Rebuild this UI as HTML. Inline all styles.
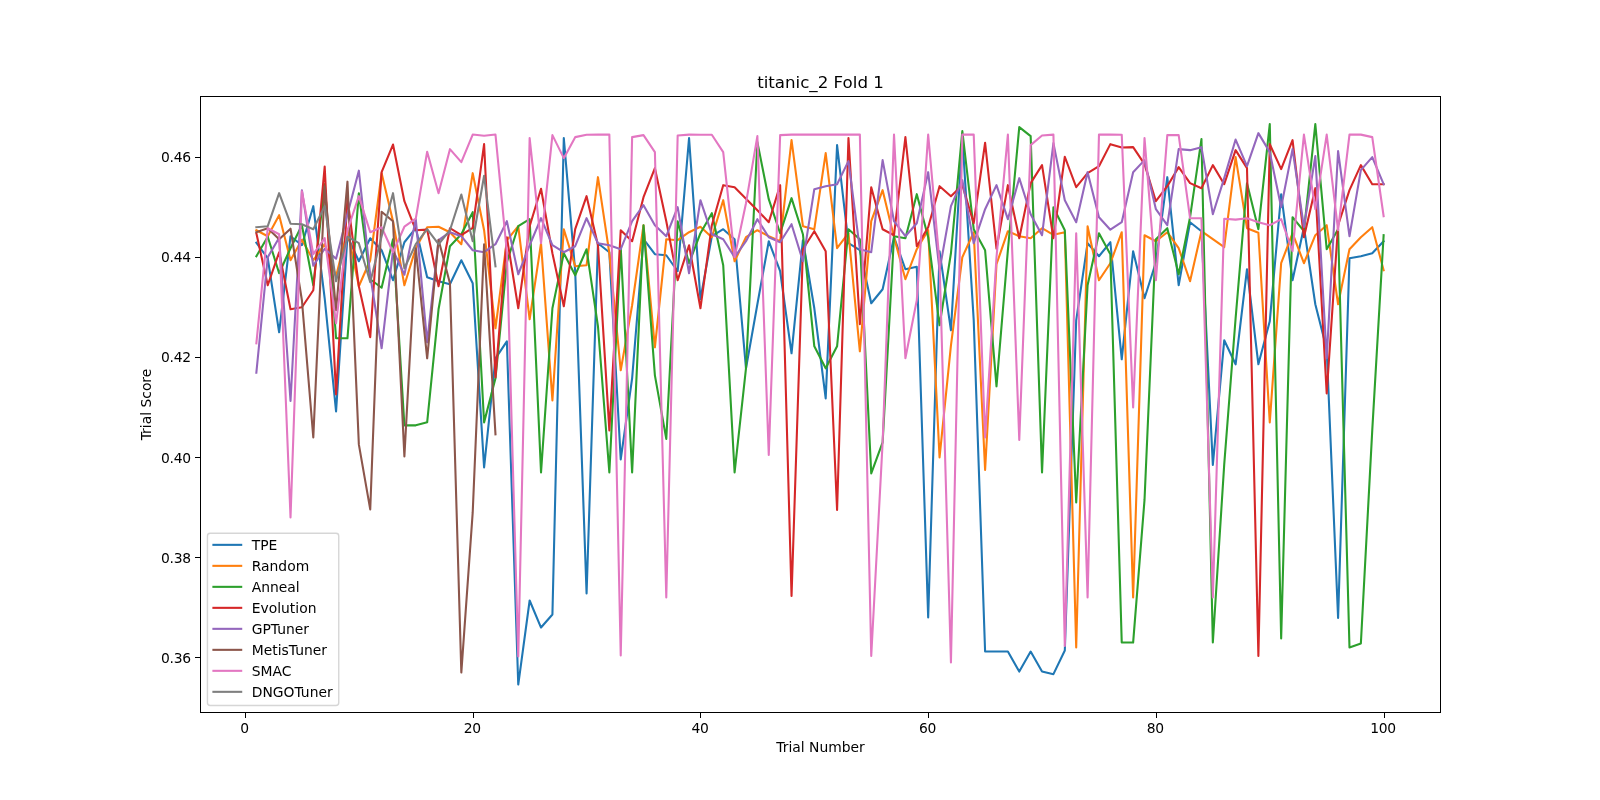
<!DOCTYPE html>
<html lang="en"><head><meta charset="utf-8"><title>titanic_2 Fold 1</title>
<style>html,body{margin:0;padding:0;background:#fff;width:1600px;height:800px;overflow:hidden}svg{display:block;will-change:transform}.sp,.tk{fill:none;stroke:#000;stroke-width:0.72;shape-rendering:crispEdges}.sp{stroke-linecap:square}</style>
</head><body>
<svg  width="1600" height="800" viewBox="0 0 1152 576"  version="1.1">
 
 <defs>
  <style type="text/css">*{stroke-linejoin: round; stroke-linecap: butt}</style>
 </defs>
 <g id="figure_1" transform="translate(0.36 0.36)">
  <g id="patch_1">
   <path d="M 0 576 
L 1152 576 
L 1152 0 
L 0 0 
z
" style="fill: #ffffff"/>
  </g>
  <g id="axes_1">
   <g id="patch_2">
    <path d="M 144 512.64 
L 1036.8 512.64 
L 1036.8 69.12 
L 144 69.12 
z
" style="fill: #ffffff"/>
   </g>
   <g id="matplotlib.axis_1">
    <g id="xtick_1">
     <g id="line2d_1">
      
      <g>
       <path d="M 176.383 512.640 L 176.383 516.560" class="tk"/>
      </g>
     </g>
     <g id="text_1">
      <text style="font-size: 10px; font-family: 'DejaVu Sans', 'Liberation Sans', sans-serif; letter-spacing: -0.22px; text-anchor: middle" x="175.633" y="527.238438" transform="rotate(-0 176.383471 527.238438)">0</text>
     </g>
    </g>
    <g id="xtick_2">
     <g id="line2d_2">
      <g>
       <path d="M 340.350 512.640 L 340.350 516.560" class="tk"/>
      </g>
     </g>
     <g id="text_2">
      <text style="font-size: 10px; font-family: 'DejaVu Sans', 'Liberation Sans', sans-serif; letter-spacing: -0.22px; text-anchor: middle" x="339.600" y="527.238438" transform="rotate(-0 340.350413 527.238438)">20</text>
     </g>
    </g>
    <g id="xtick_3">
     <g id="line2d_3">
      <g>
       <path d="M 504.317 512.640 L 504.317 516.560" class="tk"/>
      </g>
     </g>
     <g id="text_3">
      <text style="font-size: 10px; font-family: 'DejaVu Sans', 'Liberation Sans', sans-serif; letter-spacing: -0.22px; text-anchor: middle" x="503.567" y="527.238438" transform="rotate(-0 504.317355 527.238438)">40</text>
     </g>
    </g>
    <g id="xtick_4">
     <g id="line2d_4">
      <g>
       <path d="M 668.284 512.640 L 668.284 516.560" class="tk"/>
      </g>
     </g>
     <g id="text_4">
      <text style="font-size: 10px; font-family: 'DejaVu Sans', 'Liberation Sans', sans-serif; letter-spacing: -0.22px; text-anchor: middle" x="667.534" y="527.238438" transform="rotate(-0 668.284298 527.238438)">60</text>
     </g>
    </g>
    <g id="xtick_5">
     <g id="line2d_5">
      <g>
       <path d="M 832.251 512.640 L 832.251 516.560" class="tk"/>
      </g>
     </g>
     <g id="text_5">
      <text style="font-size: 10px; font-family: 'DejaVu Sans', 'Liberation Sans', sans-serif; letter-spacing: -0.22px; text-anchor: middle" x="831.501" y="527.238438" transform="rotate(-0 832.25124 527.238438)">80</text>
     </g>
    </g>
    <g id="xtick_6">
     <g id="line2d_6">
      <g>
       <path d="M 996.218 512.640 L 996.218 516.560" class="tk"/>
      </g>
     </g>
     <g id="text_6">
      <text style="font-size: 10px; font-family: 'DejaVu Sans', 'Liberation Sans', sans-serif; letter-spacing: -0.22px; text-anchor: middle" x="995.468" y="527.238438" transform="rotate(-0 996.218182 527.238438)">100</text>
     </g>
    </g>
    <g id="text_7">
     <text style="font-size: 10px; font-family: 'DejaVu Sans', 'Liberation Sans', sans-serif; text-anchor: middle" x="590.4" y="540.916563" transform="rotate(-0 590.4 540.916563)">Trial Number</text>
    </g>
   </g>
   <g id="matplotlib.axis_2">
    <g id="ytick_1">
     <g id="line2d_7">
      
      <g>
       <path d="M 144.000 473.008 L 140.080 473.008" class="tk"/>
      </g>
     </g>
     <g id="text_8">
      <text style="font-size: 10px; font-family: 'DejaVu Sans', 'Liberation Sans', sans-serif; letter-spacing: -0.22px; text-anchor: end" x="137" y="476.80705" transform="rotate(-0 137 476.80705)">0.36</text>
     </g>
    </g>
    <g id="ytick_2">
     <g id="line2d_8">
      <g>
       <path d="M 144.000 400.949 L 140.080 400.949" class="tk"/>
      </g>
     </g>
     <g id="text_9">
      <text style="font-size: 10px; font-family: 'DejaVu Sans', 'Liberation Sans', sans-serif; letter-spacing: -0.22px; text-anchor: end" x="137" y="404.748561" transform="rotate(-0 137 404.748561)">0.38</text>
     </g>
    </g>
    <g id="ytick_3">
     <g id="line2d_9">
      <g>
       <path d="M 144.000 328.891 L 140.080 328.891" class="tk"/>
      </g>
     </g>
     <g id="text_10">
      <text style="font-size: 10px; font-family: 'DejaVu Sans', 'Liberation Sans', sans-serif; letter-spacing: -0.22px; text-anchor: end" x="137" y="332.690072" transform="rotate(-0 137 332.690072)">0.40</text>
     </g>
    </g>
    <g id="ytick_4">
     <g id="line2d_10">
      <g>
       <path d="M 144.000 256.832 L 140.080 256.832" class="tk"/>
      </g>
     </g>
     <g id="text_11">
      <text style="font-size: 10px; font-family: 'DejaVu Sans', 'Liberation Sans', sans-serif; letter-spacing: -0.22px; text-anchor: end" x="137" y="260.631583" transform="rotate(-0 137 260.631583)">0.42</text>
     </g>
    </g>
    <g id="ytick_5">
     <g id="line2d_11">
      <g>
       <path d="M 144.000 184.774 L 140.080 184.774" class="tk"/>
      </g>
     </g>
     <g id="text_12">
      <text style="font-size: 10px; font-family: 'DejaVu Sans', 'Liberation Sans', sans-serif; letter-spacing: -0.22px; text-anchor: end" x="137" y="188.573094" transform="rotate(-0 137 188.573094)">0.44</text>
     </g>
    </g>
    <g id="ytick_6">
     <g id="line2d_12">
      <g>
       <path d="M 144.000 112.715 L 140.080 112.715" class="tk"/>
      </g>
     </g>
     <g id="text_13">
      <text style="font-size: 10px; font-family: 'DejaVu Sans', 'Liberation Sans', sans-serif; letter-spacing: -0.22px; text-anchor: end" x="137" y="116.514605" transform="rotate(-0 137 116.514605)">0.46</text>
     </g>
    </g>
    <g id="text_14">
     <text style="font-size: 10px; font-family: 'DejaVu Sans', 'Liberation Sans', sans-serif; text-anchor: middle" x="108.654687" y="290.88" transform="rotate(-90 108.654687 290.88)">Trial Score</text>
    </g>
   </g>
   <g id="line2d_13" transform="translate(-0.36 -0.36)">
    <path d="M 184.581818 174.829803 
L 192.780165 185.926811 
L 200.978512 239.250093 
L 209.17686 170.073943 
L 217.375207 176.559207 
L 225.573554 148.456396 
L 233.771901 214.750206 
L 241.970248 296.176299 
L 250.168595 170.073943 
L 258.366942 188.088565 
L 266.565289 171.515113 
L 274.763636 180.162132 
L 282.961983 201.779678 
L 291.160331 174.397452 
L 299.358678 164.309264 
L 307.557025 199.617924 
L 315.755372 202.500263 
L 323.953719 204.662018 
L 332.152066 187.367981 
L 340.350413 203.941433 
L 348.54876 336.529053 
L 356.747107 257.9853 
L 364.945455 245.735357 
L 373.143802 492.895974 
L 381.342149 432.366843 
L 389.540496 451.822635 
L 397.738843 442.455032 
L 405.93719 99.456624 
L 414.135537 195.294414 
L 422.333884 427.322749 
L 430.532231 175.118037 
L 438.730579 181.603301 
L 446.928926 330.764374 
L 455.127273 272.396998 
L 463.32562 172.235698 
L 471.523967 183.044471 
L 479.722314 183.765056 
L 487.920661 195.294414 
L 496.119008 99.456624 
L 504.317355 215.470791 
L 512.515702 170.073943 
L 520.71405 165.029849 
L 528.912397 172.235698 
L 537.110744 265.191149 
L 545.309091 219.073716 
L 553.507438 173.676868 
L 561.705785 195.294414 
L 569.904132 254.382375 
L 578.102479 172.956283 
L 586.300826 221.956055 
L 594.499174 286.808695 
L 602.697521 104.500718 
L 610.895868 175.118037 
L 619.094215 180.162132 
L 627.292562 218.353131 
L 635.490909 208.264942 
L 643.689256 170.794528 
L 651.887603 193.853245 
L 660.08595 192.051782 
L 668.284298 444.616786 
L 676.482645 180.882716 
L 684.680992 237.808923 
L 692.879339 98.015454 
L 701.077686 230.603074 
L 709.276033 469.116673 
L 717.47438 469.116673 
L 725.672727 469.116673 
L 733.871074 483.52837 
L 742.069421 469.116673 
L 750.267769 483.52837 
L 758.466116 485.401891 
L 766.664463 468.396088 
L 774.86281 230.603074 
L 783.061157 175.118037 
L 791.259504 184.485641 
L 799.457851 174.397452 
L 807.656198 258.705885 
L 815.854545 180.882716 
L 824.052893 214.750206 
L 832.25124 188.80915 
L 840.449587 127.559435 
L 848.647934 205.382603 
L 856.846281 159.985755 
L 865.044628 166.471019 
L 873.242975 334.727591 
L 881.441322 245.014772 
L 889.639669 262.308809 
L 897.838017 193.853245 
L 906.036364 262.308809 
L 914.234711 231.323659 
L 922.433058 139.809378 
L 930.631405 201.779678 
L 938.829752 163.588679 
L 947.028099 219.073716 
L 955.226446 251.500036 
L 963.424793 444.977079 
L 971.62314 185.926811 
L 979.821488 184.485641 
L 988.019835 182.323886 
L 996.218182 173.676868 
" clip-path="url(#pc10ccb97a0)" style="fill: none; stroke: #1f77b4; stroke-width: 1.5; stroke-linecap: square"/>
   </g>
   <g id="line2d_14" transform="translate(-0.36 -0.36)">
    <path d="M 184.581818 165.750434 
L 192.780165 170.073943 
L 200.978512 154.94166 
L 209.17686 187.367981 
L 217.375207 172.59599 
L 225.573554 187.367981 
L 233.771901 175.838622 
L 241.970248 198.897339 
L 250.168595 165.750434 
L 258.366942 206.103188 
L 266.565289 187.367981 
L 274.763636 124.677095 
L 282.961983 159.26517 
L 291.160331 205.382603 
L 299.358678 178.720962 
L 307.557025 163.588679 
L 315.755372 163.300445 
L 323.953719 167.191604 
L 332.152066 175.838622 
L 340.350413 124.677095 
L 348.54876 165.750434 
L 356.747107 236.367753 
L 364.945455 172.956283 
L 373.143802 162.868094 
L 381.342149 229.882489 
L 389.540496 175.118037 
L 397.738843 288.249865 
L 405.93719 165.029849 
L 414.135537 191.69149 
L 422.333884 190.970905 
L 430.532231 127.559435 
L 438.730579 182.323886 
L 446.928926 266.632318 
L 455.127273 219.794301 
L 463.32562 162.147509 
L 471.523967 250.058866 
L 479.722314 172.235698 
L 487.920661 172.956283 
L 496.119008 167.191604 
L 504.317355 163.300445 
L 512.515702 170.794528 
L 520.71405 144.132887 
L 528.912397 188.088565 
L 537.110744 170.794528 
L 545.309091 165.750434 
L 553.507438 170.073943 
L 561.705785 173.676868 
L 569.904132 100.897794 
L 578.102479 162.868094 
L 586.300826 165.029849 
L 594.499174 110.265397 
L 602.697521 178.720962 
L 610.895868 167.912188 
L 619.094215 252.941206 
L 627.292562 159.26517 
L 635.490909 136.927038 
L 643.689256 170.794528 
L 651.887603 201.059093 
L 660.08595 179.441547 
L 668.284298 165.750434 
L 676.482645 329.323204 
L 684.680992 248.617696 
L 692.879339 185.206226 
L 701.077686 167.191604 
L 709.276033 338.330515 
L 717.47438 190.25032 
L 725.672727 166.471019 
L 733.871074 170.073943 
L 742.069421 171.515113 
L 750.267769 164.309264 
L 758.466116 169.065124 
L 766.664463 167.191604 
L 774.86281 466.234333 
L 783.061157 162.868094 
L 791.259504 201.779678 
L 799.457851 189.529735 
L 807.656198 167.191604 
L 815.854545 430.205089 
L 824.052893 169.353358 
L 832.25124 173.676868 
L 840.449587 167.191604 
L 848.647934 178.720962 
L 856.846281 202.500263 
L 865.044628 166.471019 
L 873.242975 172.235698 
L 881.441322 178.000377 
L 889.639669 113.147737 
L 897.838017 164.309264 
L 906.036364 167.551896 
L 914.234711 304.102733 
L 922.433058 189.529735 
L 930.631405 167.912188 
L 938.829752 189.529735 
L 947.028099 169.353358 
L 955.226446 162.147509 
L 963.424793 219.073716 
L 971.62314 179.441547 
L 979.821488 170.794528 
L 988.019835 163.588679 
L 996.218182 194.573829 
" clip-path="url(#pc10ccb97a0)" style="fill: none; stroke: #ff7f0e; stroke-width: 1.5; stroke-linecap: square"/>
   </g>
   <g id="line2d_15" transform="translate(-0.36 -0.36)">
    <path d="M 184.581818 184.485641 
L 192.780165 170.434236 
L 200.978512 196.735584 
L 209.17686 178.720962 
L 217.375207 162.147509 
L 225.573554 205.382603 
L 233.771901 132.603529 
L 241.970248 243.573602 
L 250.168595 243.573602 
L 258.366942 139.088793 
L 266.565289 201.059093 
L 274.763636 207.184065 
L 282.961983 172.235698 
L 291.160331 306.264487 
L 299.358678 306.264487 
L 307.557025 304.102733 
L 315.755372 222.67664 
L 323.953719 177.279792 
L 332.152066 168.632773 
L 340.350413 152.779906 
L 348.54876 304.102733 
L 356.747107 272.396998 
L 364.945455 188.80915 
L 373.143802 162.868094 
L 381.342149 157.824 
L 389.540496 340.131977 
L 397.738843 221.956055 
L 405.93719 182.323886 
L 414.135537 198.176754 
L 422.333884 179.441547 
L 430.532231 234.926583 
L 438.730579 340.131977 
L 446.928926 178.000377 
L 455.127273 340.131977 
L 463.32562 162.147509 
L 471.523967 270.235243 
L 479.722314 315.992383 
L 487.920661 159.26517 
L 496.119008 189.529735 
L 504.317355 167.912188 
L 512.515702 153.500491 
L 520.71405 190.970905 
L 528.912397 340.131977 
L 537.110744 265.191149 
L 545.309091 102.338963 
L 553.507438 143.412302 
L 561.705785 167.912188 
L 569.904132 142.691717 
L 578.102479 168.632773 
L 586.300826 249.338281 
L 594.499174 265.191149 
L 602.697521 249.338281 
L 610.895868 165.029849 
L 619.094215 172.235698 
L 627.292562 340.852562 
L 635.490909 318.514431 
L 643.689256 170.073943 
L 651.887603 171.515113 
L 660.08595 139.809378 
L 668.284298 170.794528 
L 676.482645 234.205998 
L 684.680992 182.323886 
L 692.879339 94.41253 
L 701.077686 165.029849 
L 709.276033 180.162132 
L 717.47438 278.161677 
L 725.672727 180.162132 
L 733.871074 91.53019 
L 742.069421 98.015454 
L 750.267769 340.131977 
L 758.466116 149.176981 
L 766.664463 165.750434 
L 774.86281 361.749524 
L 783.061157 205.382603 
L 791.259504 167.912188 
L 799.457851 183.044471 
L 807.656198 462.631409 
L 815.854545 462.631409 
L 824.052893 359.948062 
L 832.25124 172.235698 
L 840.449587 164.309264 
L 848.647934 197.456169 
L 856.846281 156.38283 
L 865.044628 100.177209 
L 873.242975 462.631409 
L 881.441322 334.367298 
L 889.639669 229.161904 
L 897.838017 131.882944 
L 906.036364 165.029849 
L 914.234711 89.368435 
L 922.433058 459.749069 
L 930.631405 156.38283 
L 938.829752 166.471019 
L 947.028099 89.368435 
L 955.226446 179.441547 
L 963.424793 165.029849 
L 971.62314 466.234333 
L 979.821488 463.351994 
L 988.019835 309.867412 
L 996.218182 169.353358 
" clip-path="url(#pc10ccb97a0)" style="fill: none; stroke: #2ca02c; stroke-width: 1.5; stroke-linecap: square"/>
   </g>
   <g id="line2d_16" transform="translate(-0.36 -0.36)">
    <path d="M 184.581818 167.912188 
L 192.780165 205.382603 
L 200.978512 181.603301 
L 209.17686 222.67664 
L 217.375207 221.23547 
L 225.573554 208.985527 
L 233.771901 119.993293 
L 241.970248 283.926356 
L 250.168595 142.691717 
L 258.366942 206.103188 
L 266.565289 242.853017 
L 274.763636 123.95651 
L 282.961983 104.068367 
L 291.160331 144.853472 
L 299.358678 165.750434 
L 307.557025 165.318083 
L 315.755372 206.103188 
L 323.953719 164.309264 
L 332.152066 169.353358 
L 340.350413 164.02103 
L 348.54876 103.780133 
L 356.747107 271.676413 
L 364.945455 170.794528 
L 373.143802 221.956055 
L 381.342149 162.868094 
L 389.540496 135.918219 
L 397.738843 182.323886 
L 405.93719 220.514885 
L 414.135537 165.029849 
L 422.333884 141.250548 
L 430.532231 176.559207 
L 438.730579 309.867412 
L 446.928926 165.750434 
L 455.127273 173.676868 
L 463.32562 141.971132 
L 471.523967 121.074171 
L 479.722314 159.26517 
L 487.920661 201.779678 
L 496.119008 176.559207 
L 504.317355 221.956055 
L 512.515702 162.147509 
L 520.71405 133.324114 
L 528.912397 134.765284 
L 537.110744 143.124068 
L 545.309091 151.338736 
L 553.507438 159.985755 
L 561.705785 133.324114 
L 569.904132 429.124211 
L 578.102479 179.441547 
L 586.300826 166.471019 
L 594.499174 180.882716 
L 602.697521 367.153911 
L 610.895868 99.456624 
L 619.094215 233.485413 
L 627.292562 134.765284 
L 635.490909 165.029849 
L 643.689256 169.353358 
L 651.887603 98.736039 
L 660.08595 177.279792 
L 668.284298 163.588679 
L 676.482645 134.044699 
L 684.680992 141.250548 
L 692.879339 133.324114 
L 701.077686 160.70634 
L 709.276033 102.771314 
L 717.47438 179.081254 
L 725.672727 133.324114 
L 733.871074 171.515113 
L 742.069421 131.882944 
L 750.267769 118.912416 
L 758.466116 171.515113 
L 766.664463 112.859503 
L 774.86281 134.765284 
L 783.061157 124.677095 
L 791.259504 119.633001 
L 799.457851 103.780133 
L 807.656198 106.230122 
L 815.854545 105.941888 
L 824.052893 118.191831 
L 832.25124 144.853472 
L 840.449587 134.044699 
L 848.647934 120.353586 
L 856.846281 131.882944 
L 865.044628 135.485868 
L 873.242975 118.912416 
L 881.441322 132.603529 
L 889.639669 108.103643 
L 897.838017 121.074171 
L 906.036364 472.359305 
L 914.234711 103.780133 
L 922.433058 121.794755 
L 930.631405 100.897794 
L 938.829752 170.794528 
L 947.028099 135.485868 
L 955.226446 283.205771 
L 963.424793 162.147509 
L 971.62314 136.927038 
L 979.821488 118.912416 
L 988.019835 132.603529 
L 996.218182 132.603529 
" clip-path="url(#pc10ccb97a0)" style="fill: none; stroke: #d62728; stroke-width: 1.5; stroke-linecap: square"/>
   </g>
   <g id="line2d_17" transform="translate(-0.36 -0.36)">
    <path d="M 184.581818 268.361722 
L 192.780165 185.206226 
L 200.978512 171.15482 
L 209.17686 288.682216 
L 217.375207 136.927038 
L 225.573554 191.331197 
L 233.771901 179.081254 
L 241.970248 186.287103 
L 250.168595 154.221076 
L 258.366942 122.875633 
L 266.565289 198.176754 
L 274.763636 250.779451 
L 282.961983 180.162132 
L 291.160331 197.816461 
L 299.358678 157.824 
L 307.557025 246.455942 
L 315.755372 172.956283 
L 323.953719 167.191604 
L 332.152066 170.073943 
L 340.350413 180.162132 
L 348.54876 181.603301 
L 356.747107 175.838622 
L 364.945455 159.26517 
L 373.143802 197.456169 
L 381.342149 176.559207 
L 389.540496 157.103415 
L 397.738843 176.559207 
L 405.93719 181.603301 
L 414.135537 177.279792 
L 422.333884 157.103415 
L 430.532231 175.118037 
L 438.730579 176.559207 
L 446.928926 179.441547 
L 455.127273 159.26517 
L 463.32562 147.735812 
L 471.523967 162.147509 
L 479.722314 170.073943 
L 487.920661 149.176981 
L 496.119008 196.735584 
L 504.317355 144.132887 
L 512.515702 168.632773 
L 520.71405 172.235698 
L 528.912397 185.206226 
L 537.110744 173.676868 
L 545.309091 157.824 
L 553.507438 170.794528 
L 561.705785 174.397452 
L 569.904132 161.426924 
L 578.102479 188.088565 
L 586.300826 136.206453 
L 594.499174 134.044699 
L 602.697521 132.603529 
L 610.895868 116.030076 
L 619.094215 179.441547 
L 627.292562 181.603301 
L 635.490909 115.309491 
L 643.689256 159.26517 
L 651.887603 170.073943 
L 660.08595 160.70634 
L 668.284298 123.95651 
L 676.482645 194.573829 
L 684.680992 148.456396 
L 692.879339 129.721189 
L 701.077686 175.118037 
L 709.276033 150.618151 
L 717.47438 133.324114 
L 725.672727 157.824 
L 733.871074 128.280019 
L 742.069421 154.221076 
L 750.267769 169.353358 
L 758.466116 103.059548 
L 766.664463 144.132887 
L 774.86281 159.985755 
L 783.061157 123.95651 
L 791.259504 156.38283 
L 799.457851 165.390141 
L 807.656198 159.985755 
L 815.854545 123.95651 
L 824.052893 115.309491 
L 832.25124 150.618151 
L 840.449587 162.147509 
L 848.647934 107.383058 
L 856.846281 108.103643 
L 865.044628 105.941888 
L 873.242975 154.221076 
L 881.441322 128.280019 
L 889.639669 100.465443 
L 897.838017 119.633001 
L 906.036364 95.853699 
L 914.234711 109.544812 
L 922.433058 149.176981 
L 930.631405 107.383058 
L 938.829752 163.588679 
L 947.028099 112.427152 
L 955.226446 257.9853 
L 963.424793 108.824227 
L 971.62314 170.073943 
L 979.821488 122.51534 
L 988.019835 113.147737 
L 996.218182 132.603529 
" clip-path="url(#pc10ccb97a0)" style="fill: none; stroke: #9467bd; stroke-width: 1.5; stroke-linecap: square"/>
   </g>
   <g id="line2d_18" transform="translate(-0.36 -0.36)">
    <path d="M 184.581818 167.191604 
L 192.780165 164.309264 
L 200.978512 172.235698 
L 209.17686 164.669556 
L 217.375207 216.191376 
L 225.573554 314.911506 
L 233.771901 134.044699 
L 241.970248 223.397225 
L 250.168595 130.802067 
L 258.366942 319.9556 
L 266.565289 366.793618 
L 274.763636 152.491672 
L 282.961983 159.26517 
L 291.160331 328.602619 
L 299.358678 178.720962 
L 307.557025 257.9853 
L 315.755372 172.668049 
L 323.953719 203.941433 
L 332.152066 484.248955 
L 340.350413 368.955373 
L 348.54876 175.838622 
L 356.747107 312.749751 
" clip-path="url(#pc10ccb97a0)" style="fill: none; stroke: #8c564b; stroke-width: 1.5; stroke-linecap: square"/>
   </g>
   <g id="line2d_19" transform="translate(-0.36 -0.36)">
    <path d="M 184.581818 247.176526 
L 192.780165 164.309264 
L 200.978512 168.632773 
L 209.17686 372.558297 
L 217.375207 137.647623 
L 225.573554 183.044471 
L 233.771901 171.515113 
L 241.970248 232.764829 
L 250.168595 165.750434 
L 258.366942 141.250548 
L 266.565289 167.191604 
L 274.763636 163.588679 
L 282.961983 181.603301 
L 291.160331 163.228387 
L 299.358678 157.463708 
L 307.557025 109.256578 
L 315.755372 139.088793 
L 323.953719 107.383058 
L 332.152066 116.750661 
L 340.350413 96.862518 
L 348.54876 97.72722 
L 356.747107 96.862518 
L 364.945455 181.603301 
L 373.143802 472.719597 
L 381.342149 99.456624 
L 389.540496 175.118037 
L 397.738843 97.294869 
L 405.93719 113.868322 
L 414.135537 98.736039 
L 422.333884 97.006635 
L 430.532231 96.934577 
L 438.730579 96.934577 
L 446.928926 471.999012 
L 455.127273 98.736039 
L 463.32562 97.294869 
L 471.523967 109.544812 
L 479.722314 430.205089 
L 487.920661 97.583103 
L 496.119008 96.934577 
L 504.317355 97.006635 
L 512.515702 97.006635 
L 520.71405 109.544812 
L 528.912397 185.206226 
L 537.110744 146.294642 
L 545.309091 98.015454 
L 553.507438 327.521742 
L 561.705785 97.294869 
L 569.904132 96.934577 
L 578.102479 96.934577 
L 586.300826 96.934577 
L 594.499174 96.934577 
L 602.697521 96.934577 
L 610.895868 96.934577 
L 619.094215 96.934577 
L 627.292562 472.359305 
L 635.490909 318.514431 
L 643.689256 96.934577 
L 651.887603 257.9853 
L 660.08595 216.191376 
L 668.284298 96.934577 
L 676.482645 188.80915 
L 684.680992 477.043106 
L 692.879339 96.934577 
L 701.077686 96.934577 
L 709.276033 314.911506 
L 717.47438 185.206226 
L 725.672727 96.934577 
L 733.871074 316.712968 
L 742.069421 104.500718 
L 750.267769 97.583103 
L 758.466116 96.934577 
L 766.664463 465.153456 
L 774.86281 167.912188 
L 783.061157 430.205089 
L 791.259504 96.934577 
L 799.457851 96.934577 
L 807.656198 97.006635 
L 815.854545 293.293959 
L 824.052893 99.456624 
L 832.25124 201.779678 
L 840.449587 97.294869 
L 848.647934 97.294869 
L 856.846281 157.103415 
L 865.044628 157.103415 
L 873.242975 430.205089 
L 881.441322 157.535766 
L 889.639669 158.112234 
L 897.838017 157.103415 
L 906.036364 159.985755 
L 914.234711 162.147509 
L 922.433058 157.824 
L 930.631405 180.882716 
L 938.829752 96.934577 
L 947.028099 150.618151 
L 955.226446 96.934577 
L 963.424793 165.750434 
L 971.62314 96.934577 
L 979.821488 96.934577 
L 988.019835 98.736039 
L 996.218182 155.662245 
" clip-path="url(#pc10ccb97a0)" style="fill: none; stroke: #e377c2; stroke-width: 1.5; stroke-linecap: square"/>
   </g>
   <g id="line2d_20" transform="translate(-0.36 -0.36)">
    <path d="M 184.581818 163.588679 
L 192.780165 162.868094 
L 200.978512 139.088793 
L 209.17686 161.066632 
L 217.375207 161.426924 
L 225.573554 165.029849 
L 233.771901 148.456396 
L 241.970248 202.500263 
L 250.168595 170.434236 
L 258.366942 175.118037 
L 266.565289 203.220848 
L 274.763636 170.073943 
L 282.961983 139.088793 
L 291.160331 193.13266 
L 299.358678 175.838622 
L 307.557025 165.029849 
L 315.755372 175.838622 
L 323.953719 165.750434 
L 332.152066 140.097612 
L 340.350413 173.676868 
L 348.54876 126.550616 
L 356.747107 191.69149 
" clip-path="url(#pc10ccb97a0)" style="fill: none; stroke: #7f7f7f; stroke-width: 1.5; stroke-linecap: square"/>
   </g>
   <g id="patch_3">
    <path d="M 144 512.64 
L 144 69.12 
" class="sp"/>
   </g>
   <g id="patch_4">
    <path d="M 1036.8 512.64 
L 1036.8 69.12 
" class="sp"/>
   </g>
   <g id="patch_5">
    <path d="M 144 512.64 
L 1036.8 512.64 
" class="sp"/>
   </g>
   <g id="patch_6">
    <path d="M 144 69.12 
L 1036.8 69.12 
" class="sp"/>
   </g>
   <g id="text_15">
    <text style="font-size: 12px; font-family: 'DejaVu Sans', 'Liberation Sans', sans-serif; text-anchor: middle" x="590.4" y="63.12" transform="rotate(-0 590.4 63.12)">titanic_2 Fold 1</text>
   </g>
   <g id="legend_1">
    <g id="patch_7">
     <path d="M 151 507.64 
L 241.535937 507.64 
Q 243.535937 507.64 243.535937 505.64 
L 243.535937 385.535 
Q 243.535937 383.535 241.535937 383.535 
L 151 383.535 
Q 149 383.535 149 385.535 
L 149 505.64 
Q 149 507.64 151 507.64 
z
" style="fill: #ffffff; opacity: 0.8; stroke: #cccccc; stroke-linejoin: miter"/>
    </g>
    <g id="line2d_21">
     <path d="M 153.3 391.933437 
L 163.3 391.933437 
L 173.3 391.933437 
" style="fill: none; stroke: #1f77b4; stroke-width: 1.5; stroke-linecap: square"/>
    </g>
    <g id="text_16">
     <text style="font-size: 10px; font-family: 'DejaVu Sans', 'Liberation Sans', sans-serif; text-anchor: start" x="180.9" y="395.433437" transform="rotate(-0 180.9 395.433437)">TPE</text>
    </g>
    <g id="line2d_22">
     <path d="M 153.3 407.051562 
L 163.3 407.051562 
L 173.3 407.051562 
" style="fill: none; stroke: #ff7f0e; stroke-width: 1.5; stroke-linecap: square"/>
    </g>
    <g id="text_17">
     <text style="font-size: 10px; font-family: 'DejaVu Sans', 'Liberation Sans', sans-serif; text-anchor: start" x="180.9" y="410.551562" transform="rotate(-0 180.9 410.551562)">Random</text>
    </g>
    <g id="line2d_23">
     <path d="M 153.3 422.169688 
L 163.3 422.169688 
L 173.3 422.169688 
" style="fill: none; stroke: #2ca02c; stroke-width: 1.5; stroke-linecap: square"/>
    </g>
    <g id="text_18">
     <text style="font-size: 10px; font-family: 'DejaVu Sans', 'Liberation Sans', sans-serif; text-anchor: start" x="180.9" y="425.669688" transform="rotate(-0 180.9 425.669688)">Anneal</text>
    </g>
    <g id="line2d_24">
     <path d="M 153.3 437.287812 
L 163.3 437.287812 
L 173.3 437.287812 
" style="fill: none; stroke: #d62728; stroke-width: 1.5; stroke-linecap: square"/>
    </g>
    <g id="text_19">
     <text style="font-size: 10px; font-family: 'DejaVu Sans', 'Liberation Sans', sans-serif; text-anchor: start" x="180.9" y="440.787812" transform="rotate(-0 180.9 440.787812)">Evolution</text>
    </g>
    <g id="line2d_25">
     <path d="M 153.3 452.405937 
L 163.3 452.405937 
L 173.3 452.405937 
" style="fill: none; stroke: #9467bd; stroke-width: 1.5; stroke-linecap: square"/>
    </g>
    <g id="text_20">
     <text style="font-size: 10px; font-family: 'DejaVu Sans', 'Liberation Sans', sans-serif; text-anchor: start" x="180.9" y="455.905937" transform="rotate(-0 180.9 455.905937)">GPTuner</text>
    </g>
    <g id="line2d_26">
     <path d="M 153.3 467.524063 
L 163.3 467.524063 
L 173.3 467.524063 
" style="fill: none; stroke: #8c564b; stroke-width: 1.5; stroke-linecap: square"/>
    </g>
    <g id="text_21">
     <text style="font-size: 10px; font-family: 'DejaVu Sans', 'Liberation Sans', sans-serif; text-anchor: start" x="180.9" y="471.024063" transform="rotate(-0 180.9 471.024063)">MetisTuner</text>
    </g>
    <g id="line2d_27">
     <path d="M 153.3 482.642187 
L 163.3 482.642187 
L 173.3 482.642187 
" style="fill: none; stroke: #e377c2; stroke-width: 1.5; stroke-linecap: square"/>
    </g>
    <g id="text_22">
     <text style="font-size: 10px; font-family: 'DejaVu Sans', 'Liberation Sans', sans-serif; text-anchor: start" x="180.9" y="486.142187" transform="rotate(-0 180.9 486.142187)">SMAC</text>
    </g>
    <g id="line2d_28">
     <path d="M 153.3 497.760312 
L 163.3 497.760312 
L 173.3 497.760312 
" style="fill: none; stroke: #7f7f7f; stroke-width: 1.5; stroke-linecap: square"/>
    </g>
    <g id="text_23">
     <text style="font-size: 10px; font-family: 'DejaVu Sans', 'Liberation Sans', sans-serif; text-anchor: start" x="180.9" y="501.260312" transform="rotate(-0 180.9 501.260312)">DNGOTuner</text>
    </g>
   </g>
  </g>
 </g>
 <defs>
  <clipPath id="pc10ccb97a0">
   <rect x="144" y="69.12" width="892.8" height="443.52"/>
  </clipPath>
 </defs>
</svg>

</body></html>
